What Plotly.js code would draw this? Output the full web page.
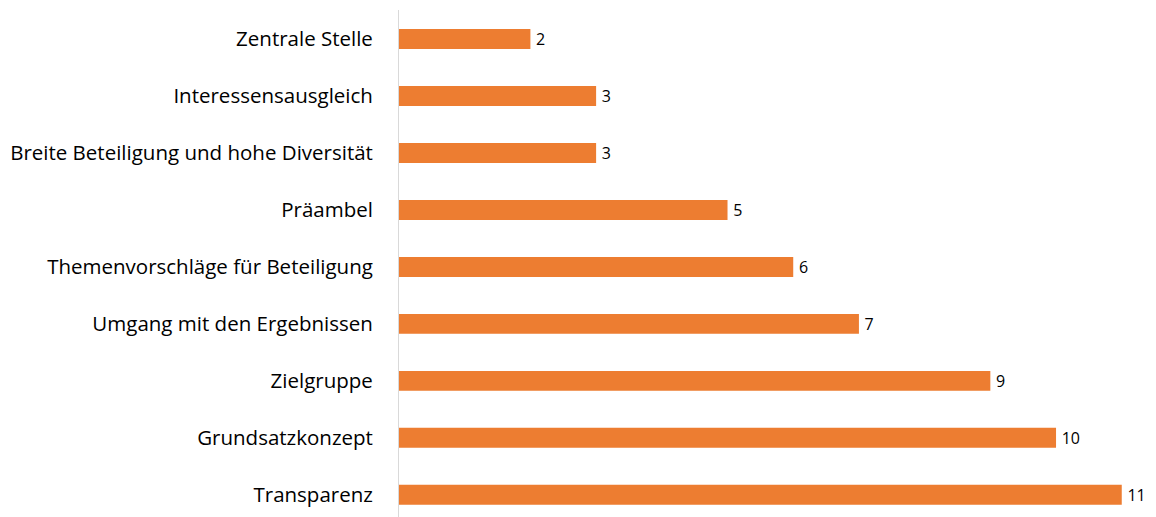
<!DOCTYPE html>
<html><head><meta charset="utf-8">
<script src="https://cdn.plot.ly/plotly-3.0.1.min.js"></script>
<style>html,body{margin:0;padding:0;background:#fff}</style>
</head><body><div id="c" style="width:1156px;height:517px"></div>
<script>
const categories = ["Zentrale Stelle","Interessensausgleich","Breite Beteiligung und hohe Diversität","Präambel","Themenvorschläge für Beteiligung","Umgang mit den Ergebnissen","Zielgruppe","Grundsatzkonzept","Transparenz"];
const values = [2,3,3,5,6,7,9,10,11];
const font = "'Open Sans', sans-serif";
Plotly.newPlot('c', [{
  type:'bar', orientation:'h', y:categories, x:values,
  marker:{color:'#ED7D31'}, text:values.map(v => '\u2009' + v), textposition:'outside',
  constraintext:'none',
  textfont:{family:font,size:16,color:'#000'}, cliponaxis:false, hoverinfo:'none'
}], {
  width:1156, height:517, margin:{l:399,r:6,t:10,b:0},
  paper_bgcolor:'#fff', plot_bgcolor:'#fff', bargap:0.65, showlegend:false,
  font:{family:font, size:18, color:'#000'},
  xaxis:{range:[0,11.43], showgrid:false, zeroline:false, showticklabels:false, showline:false},
  yaxis:{type:'category', range:[8.39,-0.51], showline:true, linecolor:'#d9d9d9', linewidth:1,
         ticks:'outside', ticklen:21, tickcolor:'rgba(0,0,0,0)', showgrid:false,
         tickfont:{family:font,size:20.5,color:'#000'}}
}, {staticPlot:true});
</script></body></html>
